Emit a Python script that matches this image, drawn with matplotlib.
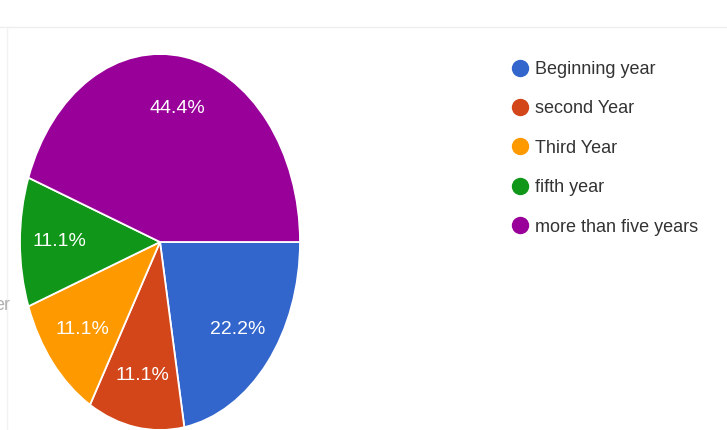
import matplotlib
matplotlib.use("Agg")
import matplotlib.pyplot as plt
from matplotlib.lines import Line2D

categories = ["Beginning year", "second Year", "Third Year", "fifth year", "more than five years"]
counts = [2, 1, 1, 1, 4]
colors = ["#3366cc", "#d2461a", "#ff9900", "#109618", "#990099"]

W, H = 727, 430
fig = plt.figure(figsize=(W / 100, H / 100), dpi=100)
fig.patch.set_facecolor("white")

# faint panel borders
fig.add_artist(Line2D([0, 1], [1 - 27 / H, 1 - 27 / H], color="#eeeeee", lw=1))
fig.add_artist(Line2D([7 / W, 7 / W], [0, 1 - 27 / H], color="#f2f2f2", lw=1))

# pie drawn into a stretched box so it appears as an ellipse
cx, cy, rx, ry = 160, 242, 140, 188
ax = fig.add_axes([(cx - rx) / W, 1 - (cy + ry) / H, 2 * rx / W, 2 * ry / H])
wedges, texts, autotexts = ax.pie(
    counts, colors=colors, startangle=0, counterclock=False,
    autopct="%1.1f%%", pctdistance=0.72,
    wedgeprops=dict(edgecolor="white", linewidth=1.3),
    textprops=dict(color="white", fontsize=14, family="Liberation Sans"),
)
ax.set_aspect("auto")
ax.set_xlim(-1, 1)
ax.set_ylim(-1, 1)
ax.axis("off")

# cut-off label at the left edge
fig.text(10 / W, 1 - 305 / H, "er", color="#b0b0b0", fontsize=13,
         family="Liberation Sans", ha="right", va="center")

# legend
handles = [Line2D([], [], marker="o", linestyle="none", markersize=11.5,
                  markerfacecolor=c, markeredgecolor=c) for c in colors]
leg = fig.legend(handles, categories, loc="upper left",
                 bbox_to_anchor=(500 / W, 1 - 52 / H), frameon=False,
                 prop=dict(family="Liberation Sans", size=13),
                 labelspacing=1.24, handletextpad=0.25, handlelength=1.2,
                 borderpad=0, labelcolor="#333333")

fig.savefig("out.png", dpi=100, facecolor="white")
